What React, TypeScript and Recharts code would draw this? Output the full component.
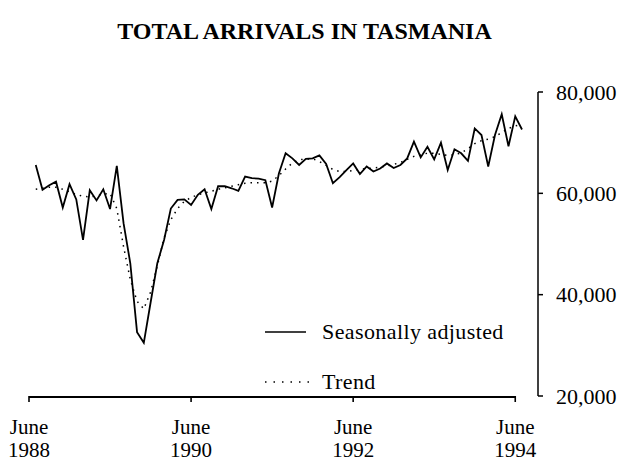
import { LineChart, Line, XAxis, YAxis } from 'recharts'

// monthly, July 1988 .. July 1994 (index 0..72); June 1988 sits at index -1
const seasonallyAdjusted = [
  65600, 60700, 61600, 62300, 57200, 61800, 58800, 50800, 60600, 58600, 60800, 56900,
  65400, 54100, 46200, 32600, 30500, 38400, 46200, 50800, 57000, 58700, 58800, 57700,
  59700, 60800, 56900, 61400, 61400, 61000, 60500, 63300, 63000, 62900, 62600, 57200,
  63900, 67900, 66900, 65600, 66800, 66900, 67500, 65800, 62000, 63200, 64600, 65900,
  63800, 65300, 64300, 64900, 65900, 65000, 65600, 66900, 70200, 67100, 69200, 66700,
  70000, 64600, 68700, 67900, 66400, 72800, 71500, 65300, 71500, 75600, 69300, 75200,
  72600,
]

const trend = [
  60800, 61000, 61200, 61200, 60800, 60300, 59800, 59400, 59300, 59500, 59800, 60000,
  57000, 49500, 43000, 38700, 37200, 40500, 45700, 51200, 54800, 57000, 58400, 59200,
  59700, 60100, 60400, 60800, 61100, 61400, 61700, 62000, 62100, 62100, 62100, 62400,
  63500, 64800, 66000, 66600, 66800, 66800, 66300, 65500, 64700, 64300, 64300, 64500,
  64700, 64900, 65000, 65200, 65400, 65700, 66100, 66700, 67300, 67700, 67900, 67900,
  67700, 67500, 67600, 68000, 68800, 69800, 70400, 70700, 71200, 72000, 72800, 73300,
  73600,
]

const xTicks = [-1, 23, 47, 71]
const tickMonths = ['June', 'June', 'June', 'June']
const tickYears = ['1988', '1990', '1992', '1994']
const yTicks = [20000, 40000, 60000, 80000]

const seriesNames = ['Seasonally adjusted', 'Trend']

const W = 619
const H = 461
const MARGIN_LEFT = 29
const Y_AXIS_W = 81
const X_MIN = -1
const X_MAX = 72
const X_PAD_RIGHT = 16
const TICK = 6

const FONT = '"Liberation Serif", "Times New Roman", serif'

const data = seasonallyAdjusted.map((v, i) => ({ m: i, sa: v, trend: trend[i] }))

// two-line month label; the first tick also draws the time axis line,
// which stops at the last tick instead of running on to the value axis
function MonthTick({ x, y, payload }: any) {
  const idx = xTicks.indexOf(payload.value)
  const plotW = W - MARGIN_LEFT - Y_AXIS_W
  const step = (plotW - X_PAD_RIGHT) / (X_MAX - X_MIN)
  const axisY = y - TICK + 1
  return (
    <g>
      {idx === 0 && (
        <line
          x1={x}
          x2={x + step * (xTicks[xTicks.length - 1] - xTicks[0])}
          y1={axisY}
          y2={axisY}
          stroke="#000"
          strokeWidth={2}
        />
      )}
      <text x={x} y={y + 32} textAnchor="middle" fill="#000" fontFamily={FONT} fontSize={21}>
        {tickMonths[idx]}
      </text>
      <text x={x} y={y + 55} textAnchor="middle" fill="#000" fontFamily={FONT} fontSize={21}>
        {tickYears[idx]}
      </text>
    </g>
  )
}

function LegendBox() {
  return (
    <div
      style={{
        position: 'absolute',
        left: 262,
        top: 318,
        fontFamily: FONT,
        fontSize: 22,
        color: '#000',
        pointerEvents: 'none',
      }}
    >
      {seriesNames.map((name, i) => (
        <div
          key={name}
          style={{ display: 'flex', alignItems: 'center', height: 27, marginBottom: i === 0 ? 23 : 0 }}
        >
          <svg width={60} height={10}>
            <line
              x1={3}
              x2={i === 0 ? 44 : 50}
              y1={5}
              y2={5}
              stroke="#000"
              strokeWidth={1.6}
              strokeDasharray={i === 0 ? undefined : '1.5 7'}
            />
          </svg>
          <span style={{ letterSpacing: 0.4, whiteSpace: 'nowrap' }}>{name}</span>
        </div>
      ))}
    </div>
  )
}

export default function App() {
  return (
    <div style={{ position: 'absolute', left: 0, top: 0, width: W, height: H, background: '#fff' }}>
      <div
        style={{
          position: 'absolute',
          left: 0,
          top: 19,
          width: 609,
          textAlign: 'center',
          fontFamily: FONT,
          fontWeight: 'bold',
          fontSize: 24,
          lineHeight: '24px',
          color: '#000',
        }}
      >
        TOTAL ARRIVALS IN TASMANIA
      </div>
      <LineChart width={W} height={H} data={data} margin={{ top: 92, right: 0, bottom: 0, left: MARGIN_LEFT }}>
        <XAxis
          dataKey="m"
          type="number"
          domain={[X_MIN, X_MAX]}
          ticks={xTicks}
          padding={{ left: 0, right: X_PAD_RIGHT }}
          height={65}
          axisLine={false}
          tickLine={{ stroke: '#000', strokeWidth: 1.6 }}
          tickSize={TICK}
          tickMargin={0}
          tick={<MonthTick />}
          interval={0}
        />
        <YAxis
          orientation="right"
          domain={[20000, 80000]}
          ticks={yTicks}
          width={Y_AXIS_W}
          axisLine={{ stroke: '#000', strokeWidth: 1.5 }}
          tickLine={{ stroke: '#000', strokeWidth: 1.5 }}
          tickSize={5}
          tickMargin={13}
          tick={{ fill: '#000', fontFamily: FONT, fontSize: 22 }}
          tickFormatter={(v: number) => v.toLocaleString('en-US')}
        />
        <Line
          type="linear"
          dataKey="trend"
          name="Trend"
          stroke="#000"
          strokeWidth={1.5}
          strokeDasharray="1.5 5"
          dot={false}
          isAnimationActive={false}
        />
        <Line
          type="linear"
          dataKey="sa"
          name="Seasonally adjusted"
          stroke="#000"
          strokeWidth={1.8}
          dot={false}
          isAnimationActive={false}
        />
      </LineChart>
      <LegendBox />
    </div>
  )
}
